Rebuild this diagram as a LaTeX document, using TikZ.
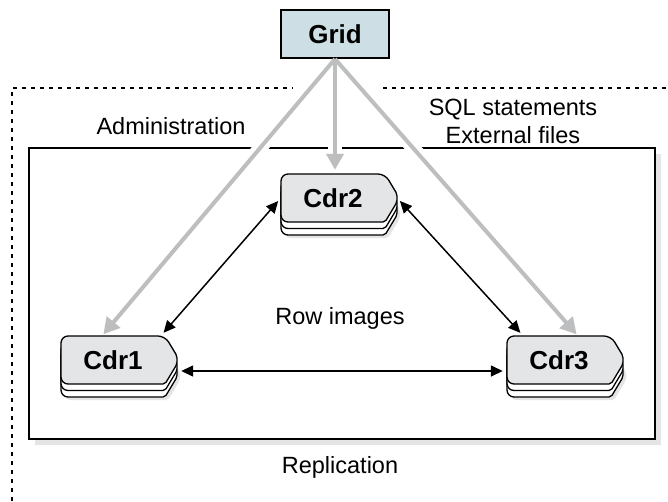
\documentclass[tikz,border=0pt]{standalone}
\usepackage{fontspec}
\setmainfont{Liberation Sans}
\usetikzlibrary{arrows.meta}

\definecolor{gridblue}{RGB}{205,223,229}
\definecolor{cdrgray}{RGB}{228,229,231}
\definecolor{linkgray}{RGB}{188,190,192}
\definecolor{shadowgray}{RGB}{228,228,228}

\tikzset{
  domainline/.style={line width=2pt, dash pattern=on 4pt off 5pt},
  gridbox/.style={draw, line width=2pt, fill=gridblue, minimum width=108pt, minimum height=48pt,
    inner sep=0pt, font=\fontsize{26}{30}\selectfont\bfseries},
  cdr/.style={minimum width=116pt, minimum height=48pt, inner sep=0pt,
    font=\fontsize{26}{30}\selectfont\bfseries, execute at begin node=\hspace*{-12pt}},
  halo/.style={draw=white, line width=14pt, shorten <=9pt, shorten >=22pt},
  linkarrow/.style={draw=linkgray, line width=4pt, -{Triangle[length=16pt 0 0, width=17pt 0 0]}, shorten >=2pt},
  syncarrow/.style={line width=1.5pt, {Triangle[length=12pt 0 0, width=11pt 0 0]}-{Triangle[length=12pt 0 0, width=11pt 0 0]},
    shorten <=4pt, shorten >=4pt}
}

% one layer of a server stack, centred on (x,y)
\newcommand{\cdrlayer}[3][]{%
  \draw[line width=1.3pt, shift={(#2,#3)}, #1]
    [rounded corners=7pt] (-58,-24) -- (46,-24)
    [rounded corners=2pt] -- (58,-4) -- (58,4) -- (46,24)
    [rounded corners=7pt] -- (-58,24) -- cycle;}
\newcommand{\cdrstack}[2]{%
  \cdrlayer[draw=none, fill=shadowgray]{#1+3}{#2+16}
  \cdrlayer[fill=white]{#1}{#2+13}
  \cdrlayer[fill=white]{#1}{#2+6.5}
  \cdrlayer[fill=cdrgray]{#1}{#2}}

\begin{document}
\begin{tikzpicture}[x=1pt, y=-1pt, font=\fontsize{23.5}{28}\selectfont]
    \useasboundingbox (0,0) rectangle (668,501);

    % dotted domain
    \draw[domainline] (12,501) -- (12,88) -- (293,88);
    \draw[domainline] (383,88) -- (668,88);

    % replication box
    \fill[shadowgray] (35,154) rectangle (661,445);
    \draw[line width=1.8pt, fill=white] (29,148) rectangle (655,439);

    % labels
    \node (admin) at (171,126) {Administration};
    \node[align=center] (sqlfiles) at (513,121) {SQL statements\\External files};
    \node (rowimg) at (340,318) {Row images};
    \node (repl) at (340,467) {Replication};

    % grid and servers
    \node[gridbox] (grid) at (335,34) {Grid};

    \cdrstack{119}{360}
    \node[cdr] (cdr1) at (119,360) {Cdr1};
    \cdrstack{339}{198}
    \node[cdr] (cdr2) at (339,198) {Cdr2};
    \cdrstack{565}{360}
    \node[cdr] (cdr3) at (565,360) {Cdr3};

    % administration links
    \draw[halo] (grid.south) -- (cdr1.125);
    \draw[halo] (grid.south) -- (grid.south |- cdr2.north);
    \draw[halo] (grid.south) -- (cdr3.62);
    \draw[linkarrow] (grid.south) -- (cdr1.125);
    \draw[linkarrow, shorten >=4pt] (grid.south) -- (grid.south |- cdr2.north);
    \draw[linkarrow] (grid.south) -- (cdr3.62);

    % row images
    \draw[syncarrow] (cdr2.west) -- (cdr1.30);
    \draw[syncarrow] (cdr2.east) -- (cdr3.150);
    \draw[syncarrow] ([yshift=-11pt]cdr1.east) -- ([yshift=-11pt]cdr3.west);

\end{tikzpicture}
\end{document}
